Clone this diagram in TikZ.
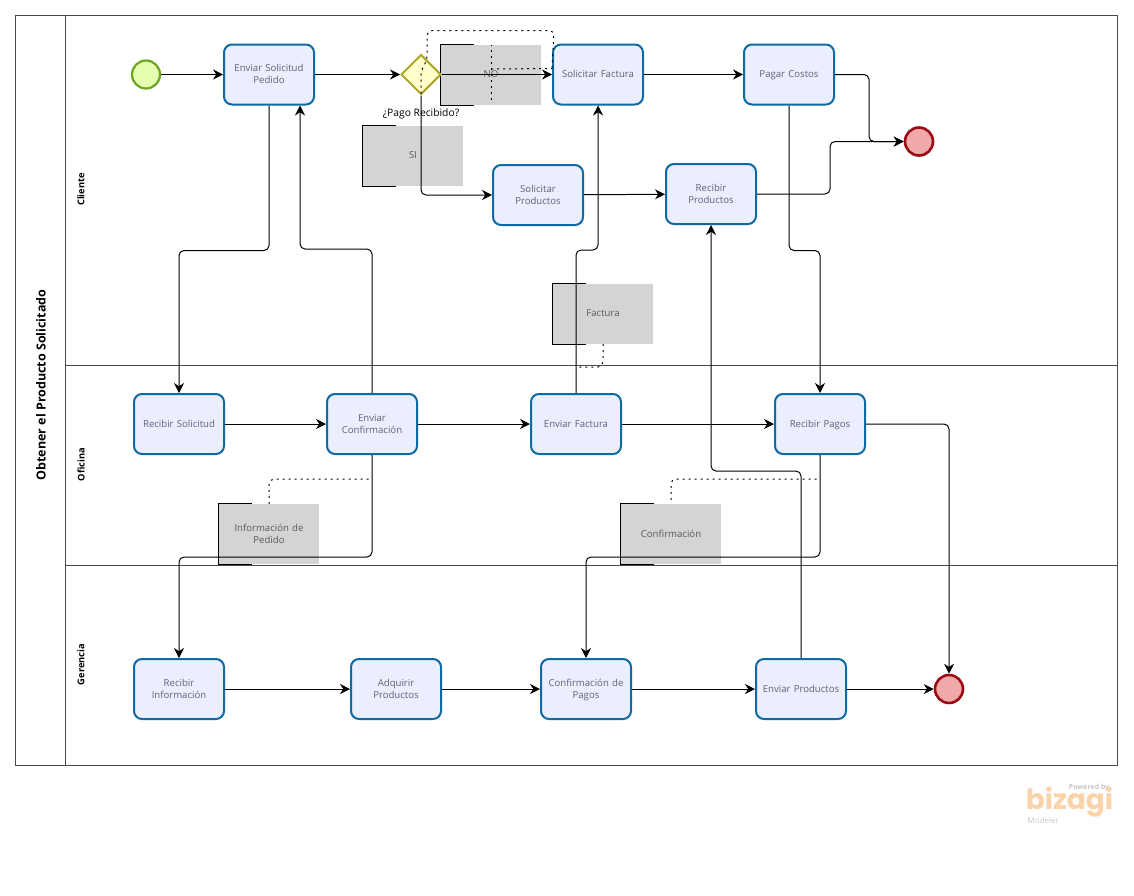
\documentclass[tikz,border=0pt]{standalone}
\usepackage{fontspec}
\setmainfont{Open Sans}
\newfontfamily\logofont{Poppins}
\usetikzlibrary{arrows.meta,shapes.geometric}
\definecolor{taskfill}{HTML}{EAEEFE}
\definecolor{taskline}{HTML}{0F6AA3}
\definecolor{tasktext}{HTML}{62626F}
\definecolor{lanecol}{HTML}{4A4A4A}
\definecolor{startfill}{HTML}{E6FFB0}
\definecolor{startline}{HTML}{6AA61E}
\definecolor{finfill}{HTML}{EFA9A9}
\definecolor{finline}{HTML}{9B0A12}
\definecolor{gatefill}{HTML}{FFFFCC}
\definecolor{gateline}{HTML}{AFA72C}
\definecolor{logocol}{HTML}{FBD3A8}
\tikzset{
  task/.style={draw=taskline,fill=taskfill,line width=2pt,rounded corners=8pt,minimum width=90pt,minimum height=60pt,inner sep=0pt,text width=86pt,text depth=1pt,align=center,text=tasktext,font=\fontsize{9.6}{12}\selectfont},
  note/.style={fill=black!17,minimum width=100pt,minimum height=60pt,inner sep=0pt,text width=92pt,text depth=1pt,align=center,text=black!65,font=\fontsize{9.6}{12}\selectfont},
  twolines/.style={text depth=13pt},
  notebr/.style={black,line width=1pt},
  flow/.style={black,line width=1pt,rounded corners=5pt,-{Stealth[length=10pt,width=10pt]}},
  assoc/.style={black,line width=1pt,rounded corners=5pt,dash pattern=on 2pt off 4pt},
  startev/.style={circle,draw=startline,fill=startfill,line width=2.2pt,minimum size=28pt,inner sep=0pt},
  finev/.style={circle,draw=finline,fill=finfill,line width=2.6pt,minimum size=28pt,inner sep=0pt},
  lanelab/.style={rotate=90,font=\fontsize{9.3}{11}\selectfont\bfseries}
}
\begin{document}
\begin{tikzpicture}[x=1pt,y=-1pt]
        \useasboundingbox (0.5,0.5) rectangle (1134.5,895.5);
        \fill[white] (0.5,0.5) rectangle (1134.5,895.5);
        %LANES
        \draw[lanecol,line width=0.8pt] (16,16) rectangle (1118,766);
        \draw[lanecol,line width=0.8pt] (66,16) -- (66,766);
        \draw[lanecol,line width=0.8pt] (66,366) -- (1118,366);
        \draw[lanecol,line width=0.8pt] (66,566) -- (1118,566);
        \node[rotate=90,font=\fontsize{12.5}{14}\selectfont\bfseries] (titulo) at (41.5,385.5) {Obtener el Producto Solicitado};
        \node[lanelab] (cliente) at (81.5,190) {Cliente};
        \node[lanelab] (oficina) at (81.5,465) {Oficina};
        \node[lanelab] (gerencia) at (81.5,665) {Gerencia};

        %NOTES
        \node[note] (notno) at (491.5,75.5) {NO};
        \node[note] (notsi) at (413.5,156.5) {SI};
        \node[note] (notfac) at (603.5,314.5) {Factura};
        \node[note,twolines] (notinf) at (269.5,534.5) {Información de\\Pedido};
        \node[note] (notconf) at (671.5,534.5) {Confirmación};
        \foreach \n in {notno,notsi,notfac,notinf,notconf}
            \draw[notebr] ([xshift=33pt]\n.north west) -- (\n.north west) -- (\n.south west) -- ([xshift=33pt]\n.south west);

        %CLIENTE
        \node[startev] (inicio) at (146.5,75) {};
        \node[task,twolines] (envsol) at (269.5,75) {Enviar Solicitud\\Pedido};
        \node[diamond,aspect=1,draw=gateline,fill=gatefill,line width=2pt,minimum size=40pt,inner sep=0pt] (pago) at (421.5,75) {};
        \node[font=\fontsize{10.3}{11}\selectfont] (pagolab) at (421.5,114.5) {¿Pago Recibido?};
        \node[task] (solfac) at (598.5,75) {Solicitar Factura};
        \node[task] (pagar) at (789.5,75) {Pagar Costos};
        \node[task,twolines] (solprod) at (538.5,195.5) {Solicitar\\Productos};
        \node[task,twolines] (recprod) at (711.5,194.5) {Recibir\\Productos};
        \node[finev] (fin1) at (919.5,142) {};

        %OFICINA
        \node[task] (recsol) at (179.5,424.5) {Recibir Solicitud};
        \node[task,twolines] (envconf) at (372.5,424.5) {Enviar\\Confirmación};
        \node[task] (envfac) at (576.5,424.5) {Enviar Factura};
        \node[task] (recpag) at (820.5,424.5) {Recibir Pagos};

        %GERENCIA
        \node[task,twolines] (recinf) at (179.5,689.5) {Recibir\\Información};
        \node[task,twolines] (adq) at (396.5,689.5) {Adquirir\\Productos};
        \node[task,twolines] (confpag) at (586.5,689.5) {Confirmación de\\Pagos};
        \node[task] (envprod) at (801.5,689.5) {Enviar Productos};
        \node[finev] (fin2) at (949.5,689.5) {};

        %STRAIGHT FLOWS
        \foreach \a/\b in {inicio/envsol,envsol/pago,pago/solfac,solfac/pagar,solprod/recprod,recsol/envconf,envconf/envfac,envfac/recpag,recinf/adq,adq/confpag,confpag/envprod,envprod/fin2}
            \draw[flow] (\a) -- (\b);

        %ROUTED FLOWS
        \draw[flow] (pago.south) |- (solprod.west);
        \draw[flow] (envsol.south) -- ++(0,145) -| (recsol.north);
        \draw[flow] (envconf.north) -- ++(0,-144) -| ([xshift=31pt]envsol.south);
        \draw[flow] (envfac.north) -- ++(0,-143) -| (solfac.south);
        \draw[flow] (pagar.south) -- ++(0,145) -| (recpag.north);
        \draw[flow] (pagar.east) -- ++(34,0) |- (fin1.west);
        \draw[flow] (recprod.east) -- ++(73,0) |- (fin1.west);
        \draw[flow] (envconf.south) -- ++(0,102) -| (recinf.north);
        \draw[flow] (recpag.south) -- ++(0,102) -| (confpag.north);
        \draw[flow] (envprod.north) -- ++(0,-187) -| (recprod.south);
        \draw[flow] (recpag.east) -| (fin2.north);

        %ASSOCIATIONS
        \draw[assoc] ([yshift=2pt]pago.south) -- ++(0,-23) -- ++(6,-10) -- ++(0,-30) -- ++(127,0) -- ([yshift=5pt]solfac.west);
        \draw[assoc] ([yshift=5pt]notno.south) -- (notno.north);
        \draw[assoc] ([yshift=6pt]notno.center) -- ([yshift=6pt]solfac.west);
        \draw[assoc] (notfac.south) |- ([yshift=26pt]envfac.north);
        \draw[assoc] (notinf.north) |- ([yshift=-24pt]envconf.south);
        \draw[assoc] ([yshift=4pt]notconf.north) |- ([yshift=-24pt]recpag.south);

        %LOGO
        \node[anchor=base east,inner sep=0pt,text=black!22,font=\fontsize{7}{8}\selectfont\bfseries] (powered) at (1110,790) {Powered by};
        \node[anchor=base,inner sep=0pt,text=logocol,font=\logofont\fontsize{28}{29}\selectfont\bfseries] (bizagi) at (1070,810) {bizagi};
        \node[anchor=base west,inner sep=0pt,text=black!22,font=\fontsize{8}{9}\selectfont] (modeler) at (1028,824) {Modeler};
\end{tikzpicture}
\end{document}
